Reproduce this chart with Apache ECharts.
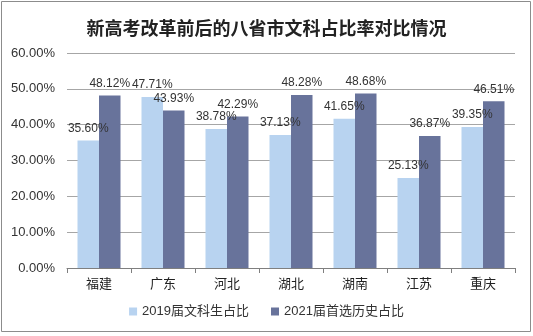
<!DOCTYPE html>
<html>
<head>
<meta charset="utf-8">
<script src="https://cdn.jsdelivr.net/npm/echarts@6/dist/echarts.min.js"></script>
<style>
  html, body { margin: 0; padding: 0; background: #fff; }
  #chart { width: 533px; height: 336px; }
</style>
</head>
<body>
<div id="chart"></div>
<script>
// Provinces / municipalities compared
const categories = ['福建', '广东', '河北', '湖北', '湖南', '江苏', '重庆'];
// Share of liberal-arts students, 2019 cohort (%)
const share2019 = [35.60, 47.71, 38.78, 37.13, 41.65, 25.13, 39.35];
// Share choosing history first, 2021 cohort (%)
const share2021 = [48.12, 43.93, 42.29, 48.28, 48.68, 36.87, 46.51];
const seriesNames = ['2019届文科生占比', '2021届首选历史占比'];
const yTicks = { min: 0, max: 60, interval: 10 };

const FONT = '"Liberation Sans", Arial, "Noto Sans CJK SC", sans-serif';
const pct = v => v.toFixed(2) + '%';

const chart = echarts.init(document.getElementById('chart'));
chart.setOption({
  backgroundColor: '#fff',
  animation: false,
  textStyle: { fontFamily: FONT },
  title: {
    text: '新高考改革前后的八省市文科占比率对比情况',
    left: 'center',
    top: 14,
    textStyle: {
      fontFamily: '"Noto Sans CJK SC", sans-serif',
      fontSize: 18,
      fontWeight: 'bold',
      color: '#222'
    }
  },
  graphic: [{
    type: 'rect',
    shape: { x: 1.5, y: 1.5, width: 529, height: 330 },
    style: { fill: 'none', stroke: '#8c8c8c', lineWidth: 1 },
    silent: true
  }],
  legend: {
    bottom: 13,
    left: 'center',
    itemWidth: 8,
    itemHeight: 8,
    itemGap: 22,
    icon: 'rect',
    textStyle: { fontSize: 13, color: '#333', fontFamily: FONT }
  },
  grid: { left: 67, right: 18, top: 53, bottom: 68 },
  xAxis: {
    type: 'category',
    data: categories,
    axisLine: { lineStyle: { color: '#7f7f7f' } },
    axisTick: { show: true, length: 5, lineStyle: { color: '#7f7f7f' } },
    axisLabel: { fontSize: 13, color: '#222', margin: 10, fontFamily: FONT }
  },
  yAxis: {
    type: 'value',
    min: yTicks.min,
    max: yTicks.max,
    interval: yTicks.interval,
    axisLine: { show: false },
    axisTick: { show: false },
    splitLine: { lineStyle: { color: '#a6a6a6' } },
    axisLabel: { fontSize: 13, color: '#333', margin: 12, formatter: v => pct(v), fontFamily: FONT }
  },
  series: [
    {
      name: seriesNames[0],
      type: 'bar',
      data: share2019,
      barWidth: '33.6%',
      barGap: '0%',
      itemStyle: { color: '#b8d3f0' },
      label: { show: true, position: 'top', distance: 6, fontSize: 12, color: '#333', formatter: p => pct(p.value) }
    },
    {
      name: seriesNames[1],
      type: 'bar',
      data: share2021,
      barWidth: '33.6%',
      barGap: '0%',
      itemStyle: { color: '#68739b' },
      label: { show: true, position: 'top', distance: 6, fontSize: 12, color: '#333', formatter: p => pct(p.value) }
    }
  ]
});
</script>
</body>
</html>
